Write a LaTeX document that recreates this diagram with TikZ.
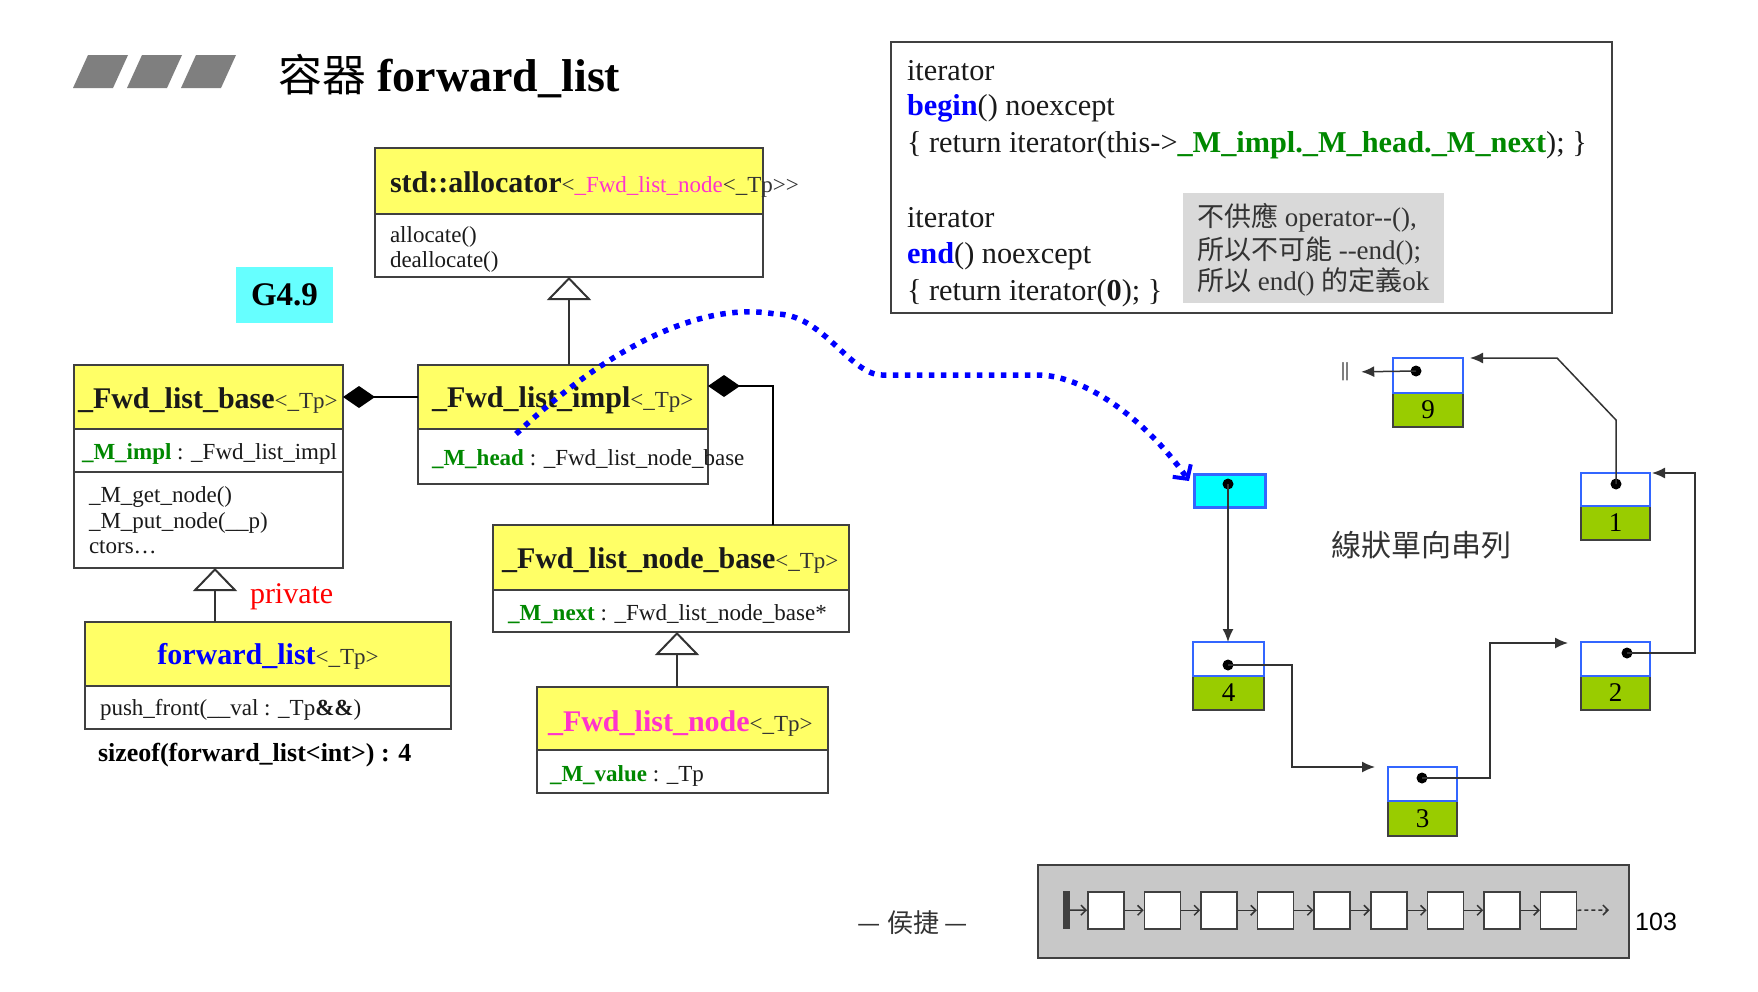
\documentclass[tikz,border=0pt]{standalone}
\usepackage{fontspec}
\setmainfont{Liberation Serif}
\newfontfamily\cjk{Noto Sans CJK TC}
\newfontfamily\arialf{Liberation Sans}
\usetikzlibrary{arrows.meta}

\newcommand\setfs[1]{\fontsize{#1}{#1}\selectfont}
\newcommand\hbold[1]{{\bfseries\setfs{30}#1}}
\newcommand\tmpl[1]{{\setfs{23}\color{tplc}#1}}
\newcommand\attrname[1]{{\color{grn}\bfseries #1}}

\definecolor{boxc}{HTML}{404040}
\definecolor{linec}{HTML}{333333}
\definecolor{hdry}{HTML}{FFFF66}
\definecolor{grn}{HTML}{008800}
\definecolor{mag}{HTML}{FF33CC}
\definecolor{tplc}{HTML}{333333}
\definecolor{txtc}{HTML}{1A1A1A}
\definecolor{ttl}{HTML}{7F7F7F}
\definecolor{g49c}{HTML}{66FFFF}
\definecolor{llblue}{HTML}{3366FF}
\definecolor{llgreen}{HTML}{99CC00}
\definecolor{llcyan}{HTML}{00FFFF}
\definecolor{notegray}{HTML}{D9D9D9}
\definecolor{stripgray}{HTML}{C8C8C8}
\definecolor{dotblue}{HTML}{0000FF}

\begin{document}
\begin{tikzpicture}[x=1pt,y=-1pt,
  box/.style={draw=boxc, line width=2pt, anchor=north west, inner sep=0pt, outer sep=0pt},
  hdr/.style={box, fill=hdry},
  body/.style={box, fill=white},
  txt/.style={anchor=base west, inner sep=0pt, outer sep=0pt, text=txtc},
  mtxt/.style={txt, font=\setfs{23}},
  inh/.style={draw=linec, line width=2pt, -{Triangle[open, fill=white, length=23pt, width=44pt]}},
  comp/.style={draw=black, line width=2pt},
  lltop/.style={draw=llblue, line width=2.5pt, fill=white, anchor=north west, inner sep=0pt, outer sep=0pt},
  llbot/.style={draw=boxc, line width=2pt, fill=llgreen, anchor=north west, inner sep=0pt, outer sep=0pt, font=\setfs{27}},
  lldot/.style={circle, fill=black, inner sep=0pt, minimum size=11pt},
  llarr/.style={draw=linec, line width=1.5pt, -{Latex[length=13pt, width=11pt]}},
  sbox/.style={draw=boxc, line width=1.5pt, fill=white, anchor=north west, inner sep=0pt, minimum width=36pt, minimum height=37pt},
  sarr/.style={draw=linec, line width=1.5pt, -{Straight Barb[length=5pt, width=10pt]}},
  bluedot/.style={draw=dotblue, line width=5.5pt, dash pattern=on 5.5pt off 6.5pt,
    -{Straight Barb[length=10pt, width=22pt, line width=4pt]}}
]
\useasboundingbox (0,0) rectangle (1758,991);
\fill[white] (0,0) rectangle (1758,991);

% ---- title ----
\foreach \i in {0,1,2}
  \fill[ttl] ({73+54*\i},88) -- ({113+54*\i},88) -- ({128+54*\i},55) -- ({88+54*\i},55) -- cycle;
\node[txt, text=black, font=\bfseries\setfs{46}] (title) at (278,91)
  {{\cjk\mdseries\setfs{44}容器} forward\_list};

% ---- std::allocator ----
\node[hdr, minimum width=388pt, minimum height=66pt] (alloc-h) at (375,148) {};
\node[body, minimum width=388pt, minimum height=63pt] (alloc-b) at (375,214) {};
\node[txt] (alloc-t) at (390,192)
  {\hbold{std::allocator}\tmpl{<\textcolor{mag}{\_Fwd\_list\_node}<\_Tp>\kern0pt>}};
\node[mtxt] (alloc-m1) at (390,242) {allocate()};
\node[mtxt] (alloc-m2) at (390,267) {deallocate()};

% ---- version tag ----
\node[fill=g49c, minimum width=97pt, minimum height=56pt, inner sep=0pt,
      font=\bfseries\setfs{33}] (g49) at (284.5,295) {G4.9};

% ---- _Fwd_list_base ----
\node[hdr, minimum width=269pt, minimum height=64pt] (base-h) at (74,365) {};
\node[body, minimum width=269pt, minimum height=43pt] (base-a) at (74,429) {};
\node[body, minimum width=269pt, minimum height=96pt] (base-m) at (74,472) {};
\node[txt] (base-t) at (78,408) {\hbold{\_Fwd\_list\_base}\tmpl{<\_Tp>}};
\node[mtxt] (base-a1) at (82,459) {\attrname{\_M\_impl} : \_Fwd\_list\_impl};
\node[mtxt] (base-m1) at (89,502) {\_M\_get\_node()};
\node[mtxt] (base-m2) at (89,528) {\_M\_put\_node(\_\_p)};
\node[mtxt] (base-m3) at (89,553) {ctors…};

% ---- _Fwd_list_impl ----
\node[hdr, minimum width=290pt, minimum height=64pt] (impl-h) at (418,365) {};
\node[body, minimum width=290pt, minimum height=55pt] (impl-a) at (418,429) {};
\node[txt] (impl-t) at (432,407) {\hbold{\_Fwd\_list\_impl}\tmpl{<\_Tp>}};
\node[mtxt] (impl-a1) at (432,465) {\attrname{\_M\_head} : \_Fwd\_list\_node\_base};

% ---- _Fwd_list_node_base ----
\node[hdr, minimum width=356pt, minimum height=65pt] (nb-h) at (493,525) {};
\node[body, minimum width=356pt, minimum height=42pt] (nb-a) at (493,590) {};
\node[txt] (nb-t) at (502,568) {\hbold{\_Fwd\_list\_node\_base}\tmpl{<\_Tp>}};
\node[mtxt] (nb-a1) at (508,620) {\attrname{\_M\_next} : \_Fwd\_list\_node\_base*};

% ---- _Fwd_list_node ----
\node[hdr, minimum width=291pt, minimum height=63pt] (nd-h) at (537,687) {};
\node[body, minimum width=291pt, minimum height=43pt] (nd-a) at (537,750) {};
\node[txt] (nd-t) at (548,731) {\hbold{\textcolor{mag}{\_Fwd\_list\_node}}\tmpl{<\_Tp>}};
\node[mtxt] (nd-a1) at (550,781) {\attrname{\_M\_value} : \_Tp};

% ---- forward_list ----
\node[hdr, minimum width=366pt, minimum height=64pt] (fl-h) at (85,622) {};
\node[body, minimum width=366pt, minimum height=43pt] (fl-a) at (85,686) {};
\node[anchor=base, inner sep=0pt] (fl-t) at (268,664)
  {\hbold{\textcolor{blue}{forward\_list}}\tmpl{<\_Tp>}};
\node[mtxt] (fl-a1) at (100,715) {push\_front(\_\_val : \_Tp{\bfseries\&\&})};
\node[txt, text=red, font=\setfs{30}] (priv) at (250,603) {private};
\node[txt, text=black, font=\bfseries\setfs{26}] (szof) at (98,761) {sizeof(forward\_list<int>) : 4};

% ---- class relations ----
\coordinate (ta) at (569,277);
\draw[inh] (impl-h.north -| ta) -- (ta);
\coordinate (tb) at (677,632);
\draw[inh] (nd-h.north -| tb) -- (tb);
\coordinate (tc) at (215,568);
\draw[inh] (fl-h.north -| tc) -- (tc);
\draw[comp, -{Diamond[length=32pt, width=22pt]}] (impl-h.west |- base-h.east) -- (base-h.east);
\coordinate (kc) at (773,386);
\draw[comp, {Diamond[length=32pt, width=22pt]}-] (impl-h.east |- kc) -- (kc) -- (nb-h.north -| kc);

% ---- begin() / end() code ----
\node[draw=boxc, line width=2pt, anchor=north west, inner sep=0pt,
      minimum width=721pt, minimum height=271pt] (itbox) at (890,41) {};
\node[fill=notegray, anchor=north west, inner sep=0pt,
      minimum width=261pt, minimum height=110pt] (note) at (1183,193) {};
\begin{scope}[every node/.style={txt, font=\setfs{30.3}}]
\node (it1) at (907,80) {iterator};
\node (it2) at (907,115) {{\color{blue}\bfseries begin}() noexcept};
\node (it3) at (907,152) {\{ return iterator(this->\attrname{\_M\_impl.\_M\_head.\_M\_next}); \}};
\node (it4) at (907,227) {iterator};
\node (it5) at (907,263) {{\color{blue}\bfseries end}() noexcept};
\node (it6) at (907,300) {\{ return iterator({\bfseries 0}); \}};
\end{scope}
\begin{scope}[every node/.style={txt, font=\setfs{27}, text=linec}]
\node (nt1) at (1197,226) {{\cjk 不供應} operator-\kern0pt-(),};
\node (nt2) at (1197,259) {{\cjk 所以不可能} -\kern0pt-end();};
\node (nt3) at (1197,290) {{\cjk 所以} end() {\cjk 的定義}ok};
\end{scope}

% ---- singly linked list ----
\node[draw=llblue, line width=2.5pt, fill=llcyan, anchor=north west, inner sep=0pt,
      minimum width=71pt, minimum height=33pt] (hd) at (1193,473) {};
\node[llbot, minimum width=71pt, minimum height=34pt] (n4b) at (1193,676) {4};
\node[lltop, minimum width=71pt, minimum height=34pt] (n4t) at (1193,642) {};
\node[llbot, minimum width=69pt, minimum height=35pt] (n3b) at (1388,801) {3};
\node[lltop, minimum width=69pt, minimum height=34pt] (n3t) at (1388,767) {};
\node[llbot, minimum width=69pt, minimum height=34pt] (n2b) at (1581,676) {2};
\node[lltop, minimum width=69pt, minimum height=34pt] (n2t) at (1581,642) {};
\node[llbot, minimum width=69pt, minimum height=34pt] (n1b) at (1581,506) {1};
\node[lltop, minimum width=69pt, minimum height=33pt] (n1t) at (1581,473) {};
\node[llbot, minimum width=70pt, minimum height=34pt] (n9b) at (1393,393) {9};
\node[lltop, minimum width=70pt, minimum height=35pt] (n9t) at (1393,358) {};

\node[lldot] (dh) at (1228,484) {};
\node[lldot] (d4) at (1228,665) {};
\node[lldot] (d3) at (1422,778) {};
\node[lldot] (d2) at (1627,653) {};
\node[lldot] (d1) at (1616,484) {};
\node[lldot] (d9) at (1416,371) {};

\node[inner sep=0pt, font=\setfs{20}] (nullmk) at (1345,372) {||};

\draw[llarr] (dh.center) -- (n4t.north -| dh.center);
\coordinate (c43) at (1292,767);
\coordinate (e3) at (1375,767);
\draw[llarr] (d4.center) -| (c43) -- (e3);
\coordinate (c32) at (1490,643);
\coordinate (e2) at (1568,643);
\draw[llarr] (d3.center) -| (c32) -- (e2);
\coordinate (c21) at (1695,473);
\draw[llarr] (d2.center) -| (c21) -- ([xshift=2pt]n1t.north east);
\coordinate (k1a) at (1616,420);
\coordinate (k1b) at (1557,358);
\draw[llarr] (d1.center) -- (k1a) -- (k1b) -- ([xshift=7pt]n9t.north east);
\draw[llarr, shorten >=12pt] (d9.center) -- (nullmk.east);

\node[text=linec, font=\cjk\setfs{30}] (lltitle) at (1421,545) {線狀單向串列};

% ---- pointer from _M_head into the list ----
\coordinate (hstart) at (516,434);
\draw[bluedot] (hstart) .. controls (600,355) and (695,300) .. (775,314)
  .. controls (822,313) and (850,375) .. (882,375) -- (1040,375)
  .. controls (1090,377) and (1150,425) .. ([shift={(-4pt,-8pt)}]hd.north west);

% ---- bottom strip ----
\node[draw=boxc, line width=2pt, fill=stripgray, anchor=north west, inner sep=0pt,
      minimum width=591pt, minimum height=93pt] (strip) at (1037,864) {};
\node[draw=boxc, line width=1pt, fill=boxc, anchor=north west, inner sep=0pt,
      minimum width=6pt, minimum height=37pt] (bar0) at (1063,891) {};
\foreach \i in {1,...,9}
  \node[sbox] (bx\i) at ({1087+56.6*(\i-1)},891) {};
\draw[sarr] (bar0.east) -- (bx1.west);
\foreach \i [count=\j from 2] in {1,...,8}
  \draw[sarr] (bx\i.east) -- (bx\j.west);
\coordinate (tail) at (1609,910);
\draw[sarr, dash pattern=on 4pt off 3pt] (bx9.east) -- (tail);

\node[text=linec, font=\cjk\setfs{26}] (author) at (913,923) {— 侯捷 —};
\node[anchor=west, inner sep=0pt, font=\arialf\setfs{25}] (pageno) at (1635,922) {103};
\end{tikzpicture}
\end{document}
